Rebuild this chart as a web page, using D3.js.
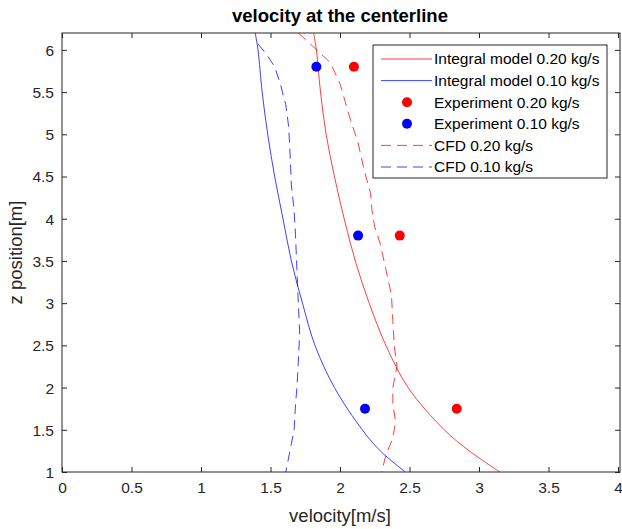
<!DOCTYPE html>
<html>
<head>
<meta charset="utf-8">
<script src="https://cdn.jsdelivr.net/npm/d3@7"></script>
<style>
  body { margin: 0; background: #fff; }
  svg { font-family: "Liberation Sans", Arial, sans-serif; }
</style>
</head>
<body>
<div id="chart"></div>
<script>
// values: [velocity m/s, z m]
var integral020 = [[1.81,6.2],[1.83,6.0],[1.86,5.5],[1.9,5.0],[1.96,4.5],[2.03,4.0],[2.11,3.5],[2.21,3.0],[2.33,2.5],[2.49,2.0],[2.75,1.5],[2.93,1.25],[3.15,1.0]];
var integral010 = [[1.39,6.2],[1.41,6.0],[1.44,5.5],[1.48,5.0],[1.53,4.5],[1.59,4.0],[1.65,3.5],[1.73,3.0],[1.82,2.5],[1.96,2.0],[2.16,1.5],[2.29,1.25],[2.47,1.0]];
var exp020 = [[2.1,5.8],[2.43,3.8],[2.84,1.75]];
var exp010 = [[1.83,5.8],[2.13,3.8],[2.18,1.75]];
var cfd020 = [[1.70,6.2],[1.80,6.05],[1.93,5.85],[2.0,5.6],[2.07,5.2],[2.13,4.9],[2.17,4.6],[2.22,4.3],[2.23,4.1],[2.25,3.9],[2.29,3.7],[2.33,3.4],[2.37,3.1],[2.38,2.8],[2.39,2.5],[2.41,2.25],[2.38,2.0],[2.38,1.8],[2.40,1.6],[2.38,1.4],[2.33,1.2],[2.30,1.0]];
var cfd010 = [[1.41,6.07],[1.47,5.95],[1.53,5.8],[1.57,5.6],[1.61,5.35],[1.63,5.1],[1.64,4.8],[1.65,4.4],[1.67,4.1],[1.68,3.8],[1.69,3.4],[1.70,3.0],[1.71,2.65],[1.70,2.3],[1.69,2.0],[1.68,1.8],[1.67,1.5],[1.64,1.25],[1.61,1.0]];
var xTicks = [0,0.5,1,1.5,2,2.5,3,3.5,4];
var yTicks = [1,1.5,2,2.5,3,3.5,4,4.5,5,5.5,6];
var legendLabels = ["Integral model 0.20 kg/s","Integral model 0.10 kg/s","Experiment 0.20 kg/s","Experiment 0.10 kg/s","CFD 0.20 kg/s","CFD 0.10 kg/s"];

var W = 622, H = 529;
var margin = {top: 33, right: 2, bottom: 57, left: 62};
var width = W - margin.left - margin.right,
    height = H - margin.top - margin.bottom;

var svg = d3.select("#chart").append("svg").attr("width", W).attr("height", H);
var g = svg.append("g").attr("transform", "translate(" + margin.left + "," + margin.top + ")");

var x = d3.scaleLinear().domain([0, 4]).range([0, width - 2]);
var y = d3.scaleLinear().domain([1, 6.2]).range([height, 0]);

g.append("clipPath").attr("id", "clip").append("rect").attr("width", width).attr("height", height);

var red = "#ff0000", blue = "#0000ff";
var smooth = d3.line().x(function(d) { return x(d[0]); }).y(function(d) { return y(d[1]); }).curve(d3.curveCatmullRom.alpha(0.5));
var jagged = d3.line().x(function(d) { return x(d[0]); }).y(function(d) { return y(d[1]); });

var plot = g.append("g").attr("clip-path", "url(#clip)");
var series = [
  {data: integral020, color: red, dash: null, gen: smooth},
  {data: integral010, color: blue, dash: null, gen: smooth},
  {data: cfd020, color: red, dash: "10,6", gen: jagged},
  {data: cfd010, color: blue, dash: "10,6", gen: jagged}
];
series.forEach(function(s) {
  plot.append("path").datum(s.data)
    .attr("d", s.gen)
    .attr("fill", "none")
    .attr("stroke", s.color)
    .attr("stroke-opacity", 0.75)
    .attr("stroke-width", 1)
    .attr("stroke-dasharray", s.dash);
});
[[exp020, red], [exp010, blue]].forEach(function(p) {
  plot.selectAll(null).data(p[0]).enter().append("circle")
    .attr("cx", function(d) { return x(d[0]); })
    .attr("cy", function(d) { return y(d[1]); })
    .attr("r", 5)
    .attr("fill", p[1]);
});

// axes, ticks pointing inward on all sides
var tickLen = 5;
var axisColor = "#262626";
var axBottom = g.append("g").attr("transform", "translate(0," + height + ")")
  .call(d3.axisBottom(x).tickValues(xTicks).tickSize(-tickLen).tickPadding(10).tickFormat(d3.format("")));
var axTop = g.append("g").call(d3.axisTop(x).tickValues(xTicks).tickSize(-tickLen).tickFormat(""));
var axLeft = g.append("g")
  .call(d3.axisLeft(y).tickValues(yTicks).tickSize(-tickLen).tickPadding(8).tickFormat(d3.format("")));
var axRight = g.append("g").attr("transform", "translate(" + width + ",0)")
  .call(d3.axisRight(y).tickValues(yTicks).tickSize(-tickLen).tickFormat(""));
[axBottom, axTop, axLeft, axRight].forEach(function(a) {
  a.select(".domain").remove();
  a.selectAll("line").attr("stroke", axisColor);
  a.selectAll("text").attr("fill", axisColor).style("font-size", "15.5px").style("font-family", "Liberation Sans, Arial, sans-serif");
});
axLeft.selectAll("text").attr("dy", "0.35em");
g.append("rect").attr("width", width).attr("height", height)
  .attr("fill", "none").attr("stroke", axisColor).attr("stroke-width", 1);

// labels
svg.append("text").attr("x", margin.left + width / 2 - 1).attr("y", 22)
  .attr("text-anchor", "middle").style("font-size", "18.5px").style("font-weight", "bold")
  .attr("fill", "#000").text("velocity at the centerline");
svg.append("text").attr("x", margin.left + width / 2 - 1).attr("y", 522)
  .attr("text-anchor", "middle").style("font-size", "18.5px").attr("fill", axisColor)
  .text("velocity[m/s]");
svg.append("text").attr("transform", "translate(22," + (margin.top + height / 2) + ") rotate(-90)")
  .attr("text-anchor", "middle").style("font-size", "18.5px").attr("fill", axisColor)
  .text("z position[m]");

// legend
var lg = svg.append("g").attr("transform", "translate(373,45)");
lg.append("rect").attr("width", 234).attr("height", 133)
  .attr("fill", "#fff").attr("stroke", axisColor).attr("stroke-width", 1);
var legendItems = [
  {type: "line", color: red, dash: null},
  {type: "line", color: blue, dash: null},
  {type: "dot", color: red},
  {type: "dot", color: blue},
  {type: "line", color: red, dash: "10,6"},
  {type: "line", color: blue, dash: "10,6"}
];
legendItems.forEach(function(it, i) {
  var yy = 14 + i * 21.6;
  if (it.type === "line") {
    lg.append("line").attr("x1", 8).attr("x2", 59).attr("y1", yy).attr("y2", yy)
      .attr("stroke", it.color).attr("stroke-opacity", 0.75).attr("stroke-dasharray", it.dash);
  } else {
    lg.append("circle").attr("cx", 34).attr("cy", yy).attr("r", 5).attr("fill", it.color);
  }
  lg.append("text").attr("x", 61).attr("y", yy).attr("dy", "0.35em")
    .style("font-size", "15.5px").attr("fill", "#000").text(legendLabels[i]);
});
</script>
</body>
</html>
